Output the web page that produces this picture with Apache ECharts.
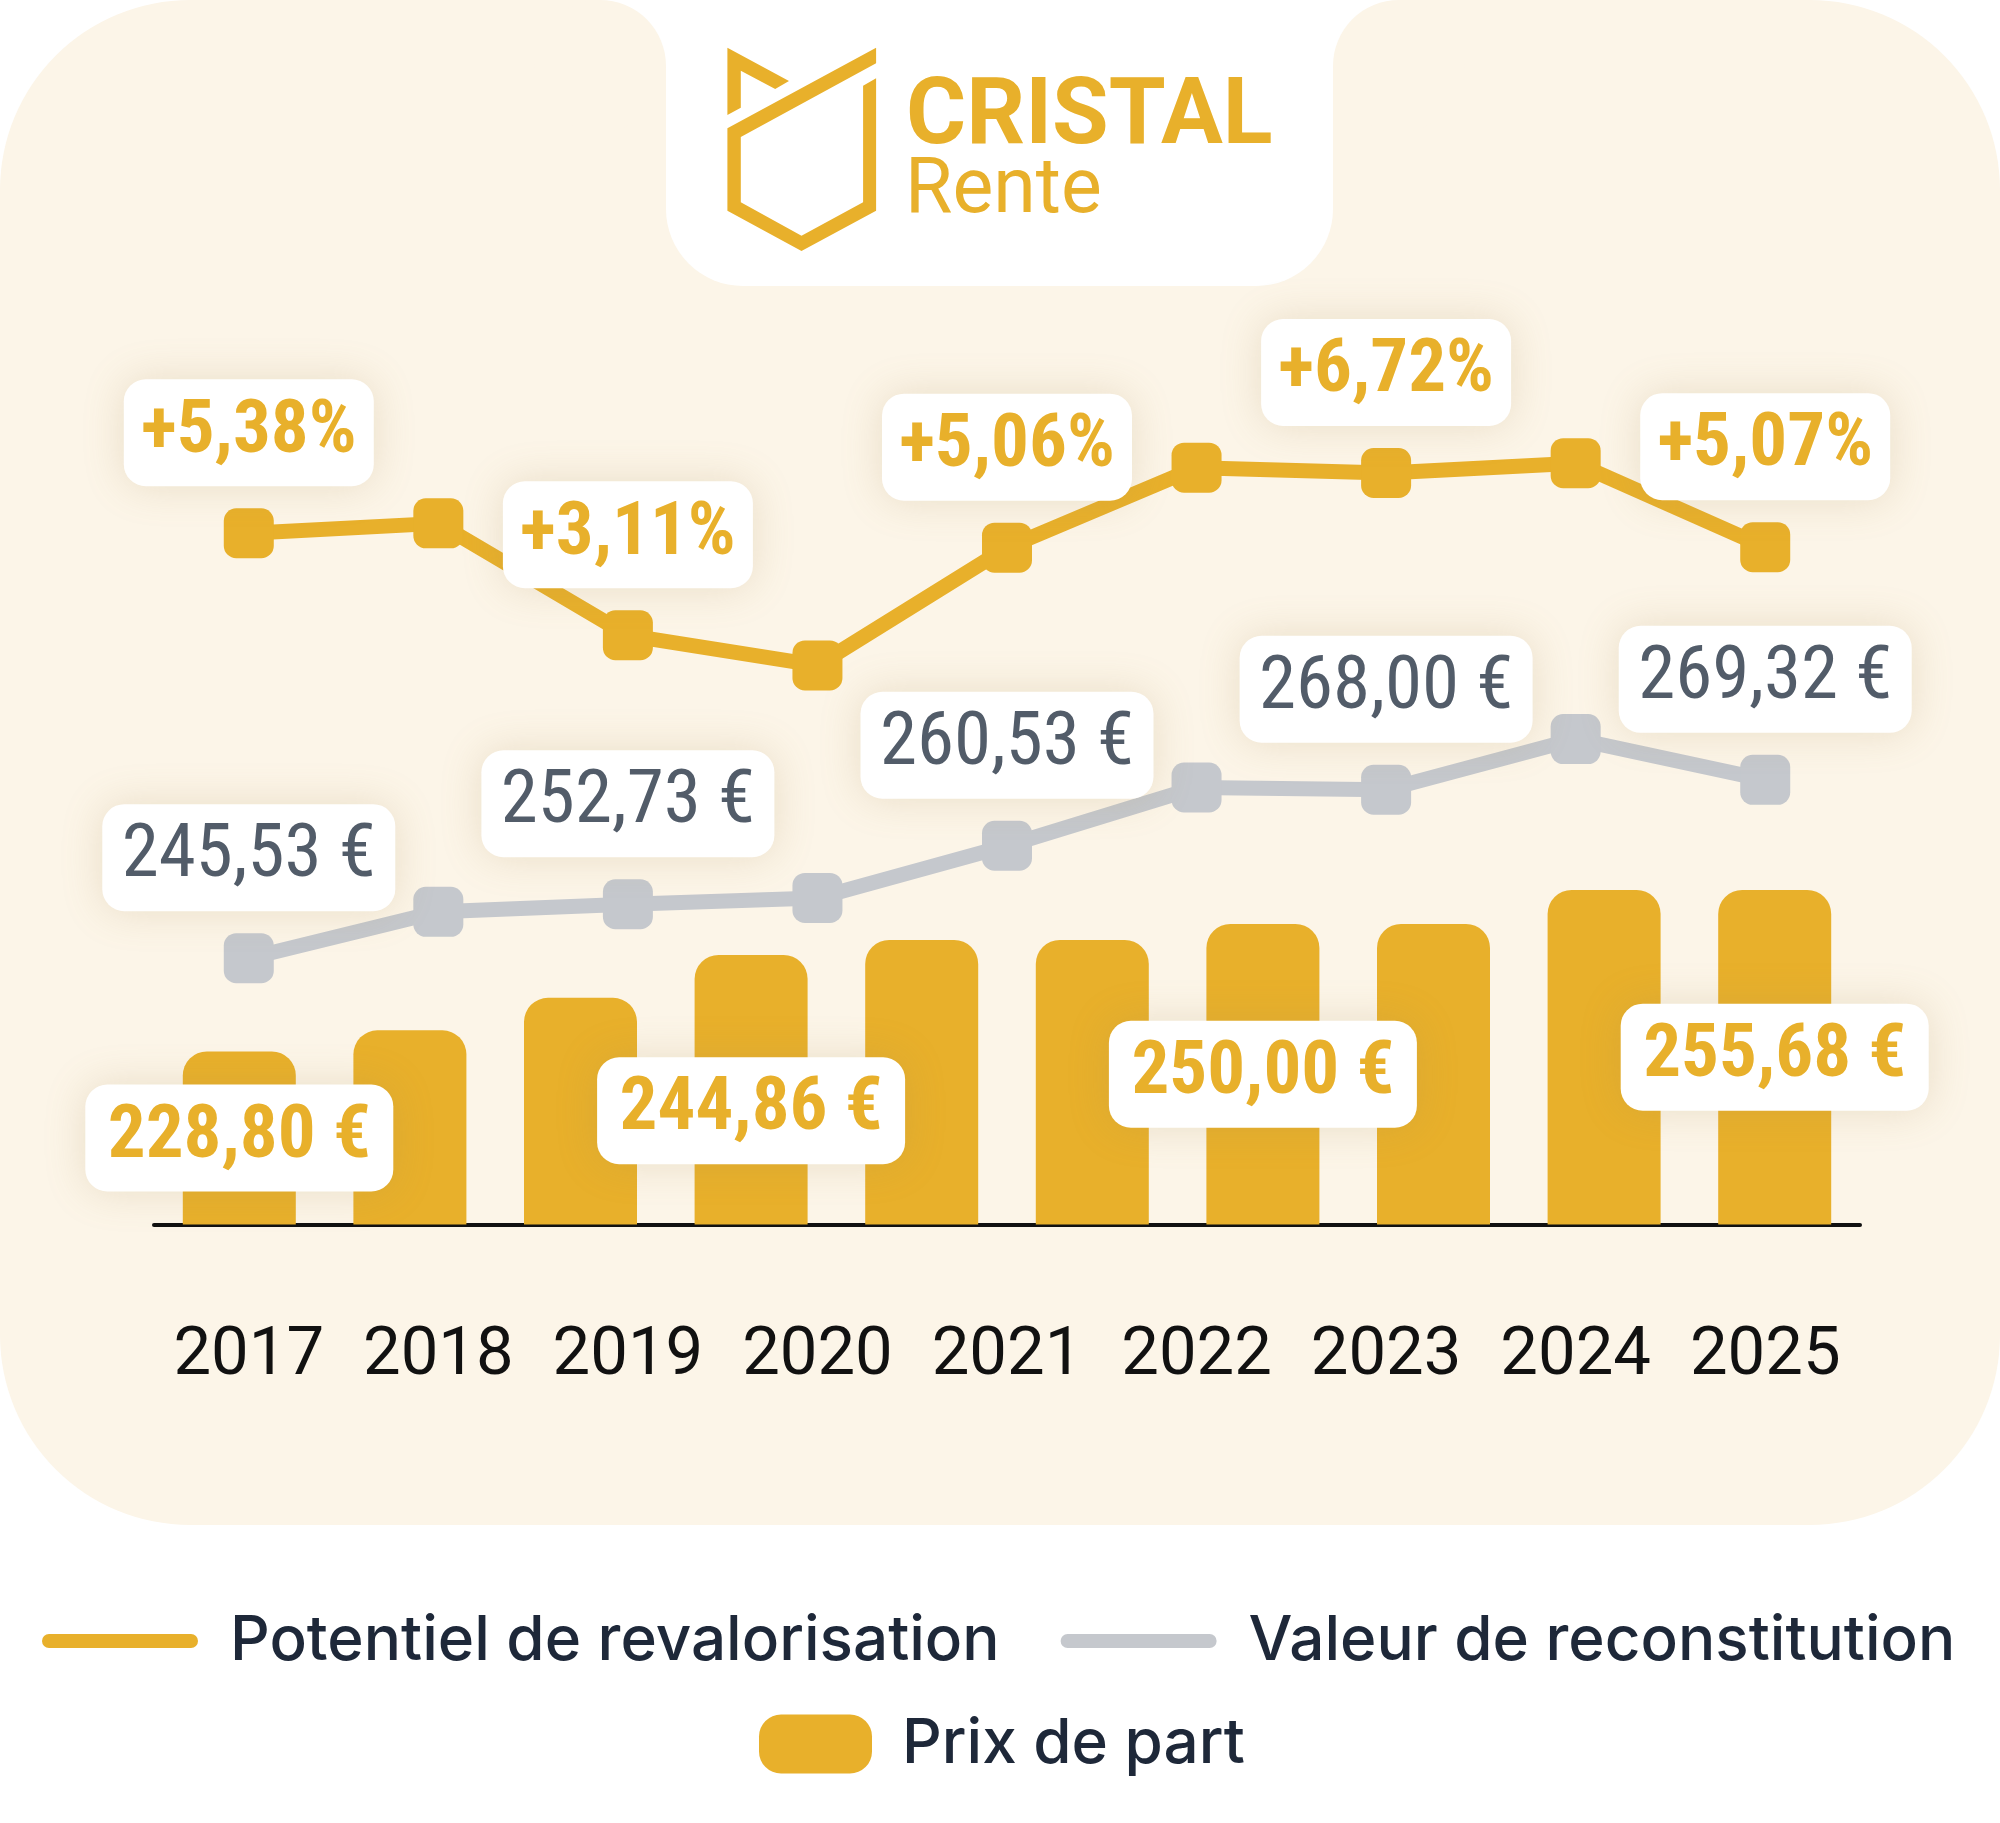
<!DOCTYPE html>
<html><head><meta charset="utf-8">
<script src="https://cdn.jsdelivr.net/npm/echarts/dist/echarts.min.js"></script>
<style>html,body{margin:0;padding:0;background:#fff}#chart{width:2000px;height:1823px}</style>
</head><body><div id="chart"></div>
<script>
// ---- data ----
const years = ['2017', '2018', '2019', '2020', '2021', '2022', '2023', '2024', '2025'];
const potentielRevalorisation = [5.38, 5.60, 3.11, 2.44, 5.06, 6.84, 6.72, 6.94, 5.07];
const valeurReconstitution = [245.53, 251.72, 252.73, 253.57, 260.53, 268.30, 268.00, 274.76, 269.32];
const prixPeriodes = ['P1', 'P2', 'P3', 'P4', 'P5', 'P6', 'P7', 'P8', 'P9', 'P10'];
const prixDePart = [228.80, 232.31, 237.72, 244.86, 247.36, 247.36, 250.00, 250.00, 255.68, 255.68];
const potentielLabelled = [0, 2, 4, 6, 8];
const valeurLabelled = [0, 2, 4, 6, 8];
const prixLabelled = [0, 3, 6, 9];
const seriesNames = ['Potentiel de revalorisation', 'Valeur de reconstitution', 'Prix de part'];

// ---- styles ----
const GOLD = '#E8B02B';
const GREY = '#C5C8CD';
const GREY_TEXT = '#525C69';
const NAVY = '#1E2839';
const CREAM = '#FCF5E8';
const NUM_FONT = "'Roboto Condensed', 'Liberation Sans Narrow', 'Arial Narrow', Roboto, sans-serif";
const labelBox = {
  backgroundColor: '#ffffff', borderRadius: 22,
  shadowBlur: 40, shadowColor: 'rgba(170,140,80,0.22)',
  fontFamily: NUM_FONT, fontSize: 75, lineHeight: 75, height: 75, align: 'center'
};
const fmtEuro = v => v.toFixed(2).replace('.', ',') + ' €';
const fmtPct = v => '+' + v.toFixed(2).replace('.', ',') + '%';
const barLabelOffset = {3: [0, 21]};

const chart = echarts.init(document.getElementById('chart'), null, {renderer: 'canvas'});

const option = {
  animation: false,
  backgroundColor: '#ffffff',
  graphic: [
    {type: 'rect', z: -10, shape: {x: 0, y: 0, width: 2000, height: 1525, r: 190}, style: {fill: CREAM}},
    {type: 'rect', z: -9, shape: {x: 666, y: -100, width: 667, height: 386, r: 77}, style: {fill: '#ffffff'}},
    {type: 'rect', z: -9, shape: {x: 600, y: 0, width: 66, height: 66}, style: {fill: '#ffffff'}},
    {type: 'rect', z: -9, shape: {x: 1333, y: 0, width: 66, height: 66}, style: {fill: '#ffffff'}},
    {type: 'circle', z: -8, shape: {cx: 600, cy: 66, r: 66}, style: {fill: CREAM}},
    {type: 'circle', z: -8, shape: {cx: 1399, cy: 66, r: 66}, style: {fill: CREAM}},
    {type: 'polygon', z: -7, shape: {points: [[727.4, 47.7], [789, 81], [775.2, 89], [740.8, 70.7], [740.8, 107.7], [727.4, 115]]}, style: {fill: GOLD}},
    {type: 'polygon', z: -7, shape: {points: [[727.4, 128.3], [876.1, 47.7], [876.1, 63.3], [740.8, 137], [740.8, 202.3], [801.5, 235.7], [863.1, 202.3], [863.1, 85.7], [876.1, 78.3], [876.1, 210.7], [801.5, 251], [727.4, 210.7]]}, style: {fill: GOLD}},
    {type: 'text', z: -7, x: 906, y: 120, style: {text: 'CRISTAL', fill: GOLD, font: 'bold 92px Roboto', textAlign: 'left', textVerticalAlign: 'middle'}},
    {type: 'text', z: -7, x: 905, y: 193, style: {text: 'Rente', fill: GOLD, font: '77px Roboto', textAlign: 'left', textVerticalAlign: 'middle'}}
  ],
  grid: {left: 154, width: 1706, top: 400, height: 824.5, containLabel: false},
  xAxis: [
    {type: 'category', data: years, position: 'bottom',
     axisLine: {show: true, onZero: false, lineStyle: {color: '#111111', width: 4}},
     axisTick: {show: false},
     axisLabel: {interval: 0, color: '#111111', fontFamily: 'Roboto', fontSize: 67, lineHeight: 67, margin: 99}},
    {type: 'category', data: prixPeriodes, show: false}
  ],
  yAxis: [
    {type: 'value', min: 200, max: 337.2, show: false},
    {type: 'value', min: 210, max: 320, show: false},
    {type: 'value', min: -10, max: 8.345, show: false}
  ],
  legend: [
    {left: 42, top: 1610, padding: 0, itemWidth: 156, itemHeight: 14, itemGap: 61,
     selectedMode: false,
     textStyle: {color: NAVY, fontFamily: 'Inter', fontWeight: 500, fontSize: 62, lineHeight: 62, padding: [0, 0, 0, 27]},
     data: [
       {name: seriesNames[0], icon: 'path://M7,0 H149 A7,7 0 0 1 149,14 H7 A7,7 0 0 1 7,0 Z'},
       {name: seriesNames[1], icon: 'path://M7,0 H149 A7,7 0 0 1 149,14 H7 A7,7 0 0 1 7,0 Z'}
     ]},
    {left: 759, top: 1713, padding: 0, itemWidth: 113, itemHeight: 59,
     selectedMode: false,
     textStyle: {color: NAVY, fontFamily: 'Inter', fontWeight: 500, fontSize: 62, lineHeight: 62, padding: [0, 0, 0, 25]},
     data: [
       {name: seriesNames[2], icon: 'path://M22,0 H91 A22,22 0 0 1 113,22 V37 A22,22 0 0 1 91,59 H22 A22,22 0 0 1 0,37 V22 A22,22 0 0 1 22,0 Z'}
     ]}
  ],
  series: [
    {
      name: seriesNames[2], type: 'bar', xAxisIndex: 1, yAxisIndex: 0,
      barWidth: 113, z: 1,
      itemStyle: {color: GOLD, borderRadius: [24, 24, 0, 0]},
      label: Object.assign({show: false, position: 'inside', color: GOLD, fontWeight: 'bold', width: 308, padding: [16, 0, 16, 0], formatter: p => fmtEuro(p.value)}, labelBox),
      data: prixDePart.map((v, i) => {
        const on = prixLabelled.indexOf(i) >= 0;
        const item = {value: v, label: {show: on}};
        if (barLabelOffset[i]) item.label.offset = barLabelOffset[i];
        return item;
      })
    },
    {
      name: seriesNames[1], type: 'line', xAxisIndex: 0, yAxisIndex: 1, z: 3,
      symbol: 'roundRect', symbolSize: 50,
      lineStyle: {color: GREY, width: 15},
      itemStyle: {color: GREY},
      label: Object.assign({show: false, position: 'top', distance: 22, color: GREY_TEXT, fontWeight: 'normal', width: 293, padding: [16, 0, 16, 0], formatter: p => fmtEuro(p.value)}, labelBox),
      data: valeurReconstitution.map((v, i) => ({value: v, label: {show: valeurLabelled.indexOf(i) >= 0}}))
    },
    {
      name: seriesNames[0], type: 'line', xAxisIndex: 0, yAxisIndex: 2, z: 4,
      symbol: 'roundRect', symbolSize: 50,
      lineStyle: {color: GOLD, width: 15},
      itemStyle: {color: GOLD},
      label: Object.assign({show: false, position: 'top', distance: 22, color: GOLD, fontWeight: 'bold', width: 250, padding: [16, 0, 16, 0], formatter: p => fmtPct(p.value)}, labelBox),
      data: potentielRevalorisation.map((v, i) => ({value: v, label: {show: potentielLabelled.indexOf(i) >= 0}}))
    }
  ]
};
chart.setOption(option);
</script></body></html>
